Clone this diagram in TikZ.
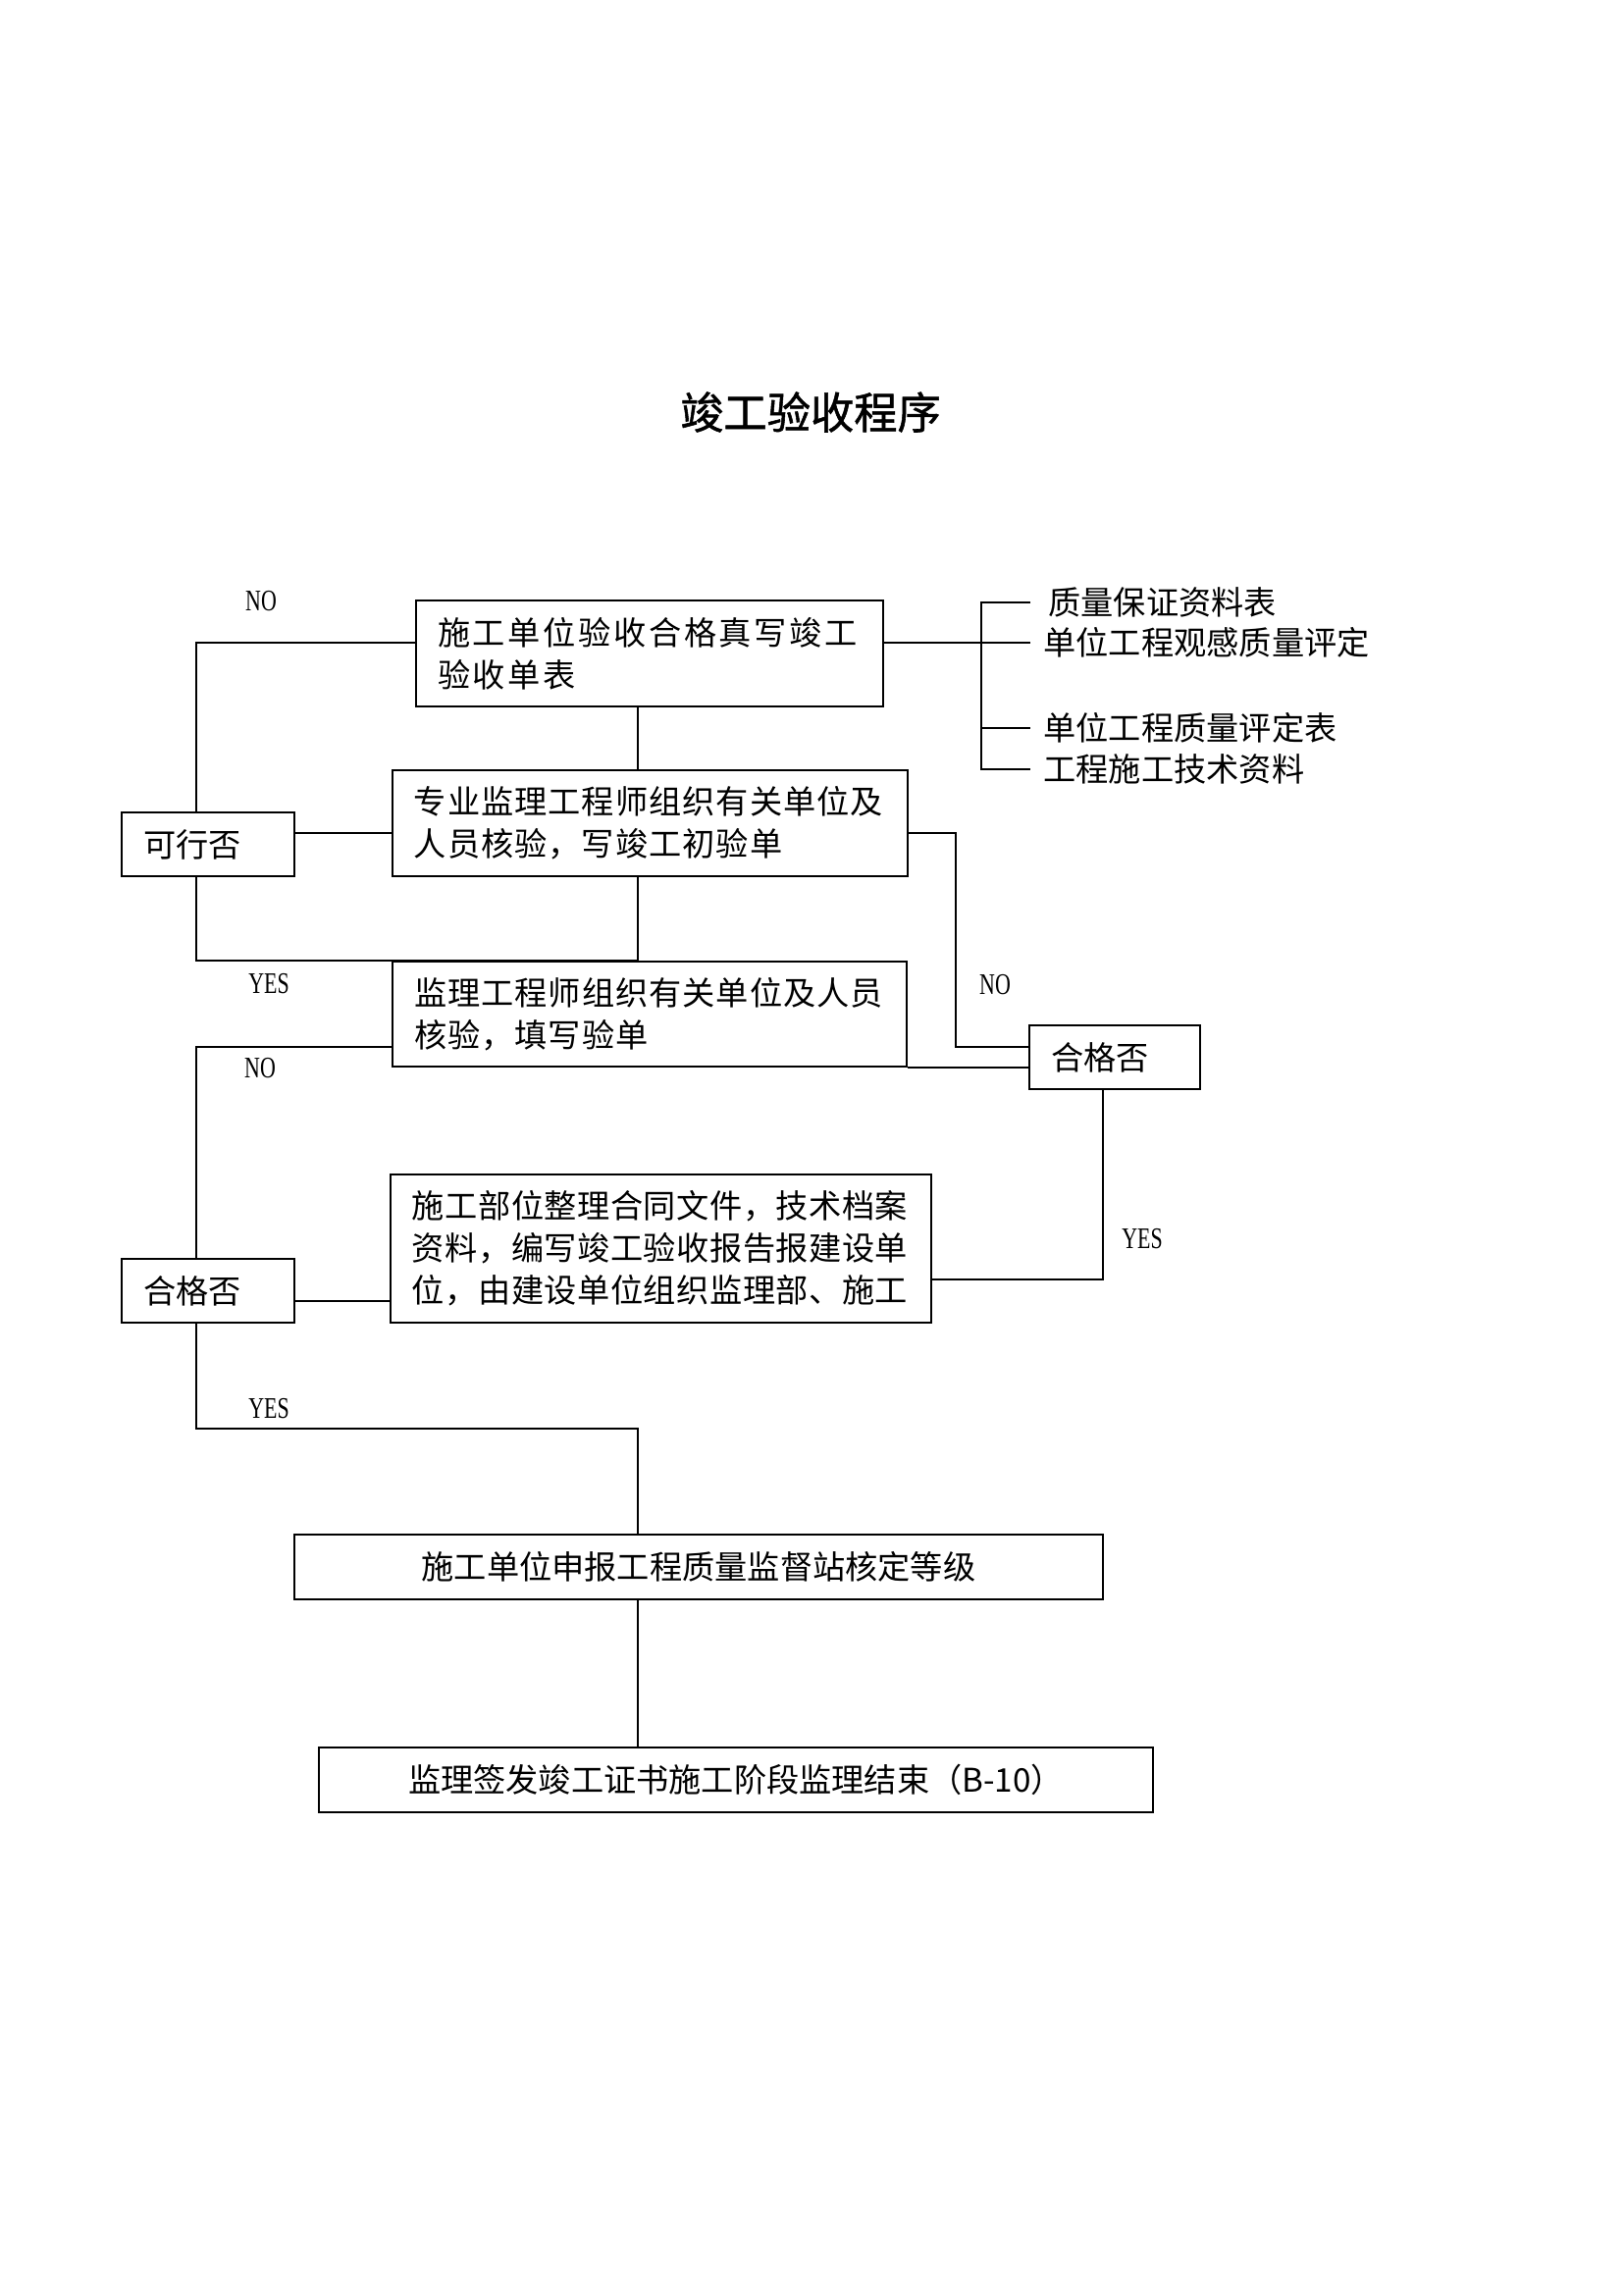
\documentclass[tikz,border=0pt]{standalone}
\usepackage{fontspec}
\usepackage{graphicx}
\setmainfont{Liberation Serif}
\newfontfamily\cjk{Noto Sans CJK SC}
\newfontfamily\cjktitle[FakeBold=1.2]{Noto Sans CJK SC}
\begin{document}
\begin{tikzpicture}[x=0.127mm, y=-0.127mm,
  box/.style={draw, line width=0.9pt, rectangle, inner xsep=2.794mm, inner ysep=0pt,
    align=left, font=\cjk\fontsize{12}{15.5}\selectfont},
  cbox/.style={box, align=center},
  ln/.style={line width=0.7pt},
  lbl/.style={inner sep=0pt, font=\fontsize{11}{13}\selectfont},
  side/.style={anchor=west, inner sep=0pt, font=\cjk\fontsize{12}{14}\selectfont},
  ttl/.style={inner sep=0pt, font=\cjktitle\fontsize{16}{19}\selectfont}]
\useasboundingbox (0,0) rectangle (1654,2339);

\node[ttl] (title) at (826,420) {竣工验收程序};

\node[box, text width=54.86mm, minimum height=13.72mm] (b1) at (662,666) {\addfontfeature{LetterSpace=8}施工单位验收合格真写竣工\\验收单表};
\node[box, text width=61.09mm, minimum height=13.72mm] (b2) at (662.5,839) {\addfontfeature{LetterSpace=3}专业监理工程师组织有关单位及\\人员核验，写竣工初验单};
\node[box, text width=60.96mm, minimum height=13.59mm] (b3) at (662,1033.5) {\addfontfeature{LetterSpace=3}监理工程师组织有关单位及人员\\核验，填写验单};
\node[box, text width=64.39mm, minimum height=19.18mm] (b4) at (673.5,1272.5) {\addfontfeature{LetterSpace=1.5}施工部位整理合同文件，技术档案\\资料，编写竣工验收报告报建设单\\位，由建设单位组织监理部、施工};
\node[box, text width=16.76mm, minimum height=8.26mm] (k1) at (212,860.5) {可行否};
\node[box, text width=16.51mm, minimum height=8.26mm] (q1) at (1136,1077.5) {合格否};
\node[box, text width=16.76mm, minimum height=8.26mm] (q2) at (212,1315.5) {合格否};
\node[cbox, text width=99.06mm, minimum height=8.38mm] (b5) at (712,1597) {施工单位申报工程质量监督站核定等级};
\node[cbox, text width=102.36mm, minimum height=8.38mm] (b6) at (750,1814) {监理签发竣工证书施工阶段监理结束（B-10）};

\node[side] (t1) at (1068,614) {质量保证资料表};
\node[side] (t2) at (1063,655) {单位工程观感质量评定};
\node[side] (t3) at (1063,742) {单位工程质量评定表};
\node[side] (t4) at (1063,784) {工程施工技术资料};

\node[lbl] (l1) at (266,613) {\scalebox{0.72}[1]{NO}};
\node[lbl] (l2) at (274,1003) {\scalebox{0.72}[1]{YES}};
\node[lbl] (l3) at (1014,1004) {\scalebox{0.72}[1]{NO}};
\node[lbl] (l4) at (265,1089) {\scalebox{0.72}[1]{NO}};
\node[lbl] (l5) at (1164,1263) {\scalebox{0.72}[1]{YES}};
\node[lbl] (l6) at (274,1436) {\scalebox{0.72}[1]{YES}};

\coordinate (vL) at (200,0);
\coordinate (vM) at (650,0);
\coordinate (vR) at (974,0);
\coordinate (vQ) at (1124,0);
\coordinate (bx) at (1000,0);
\coordinate (bt) at (1050,0);
\coordinate (yNO) at (0,655);
\coordinate (yK) at (0,849);
\coordinate (yB) at (0,1067);
\coordinate (yQ2) at (0,1326);
\coordinate (yB4) at (0,1304);
\coordinate (yY3) at (0,1456);

\draw[ln] (vL |- k1.north) -- (vL |- yNO) -- (b1.west |- yNO);
\draw[ln] (b1.east |- yNO) -- (bt |- yNO);
\draw[ln] (bt |- t1.west) -- (bx |- t1.west) -- (bx |- t4.west) -- (bt |- t4.west);
\draw[ln] (bx |- t3.west) -- (bt |- t3.west);
\draw[ln] (vM |- b1.south) -- (vM |- b2.north);
\draw[ln] (k1.east |- yK) -- (b2.west |- yK);
\draw[ln] (b2.east |- yK) -- (vR |- yK) -- (vR |- yB) -- (q1.west |- yB);
\draw[ln] (b3.south east) -- (q1.west |- b3.south);
\draw[ln] (vM |- b2.south) -- (vM |- b3.north);
\draw[ln] (vL |- k1.south) -- (vL |- b3.north) -- (vM |- b3.north);
\draw[ln] (b3.west |- yB) -- (vL |- yB) -- (vL |- q2.north);
\draw[ln] (q2.east |- yQ2) -- (b4.west |- yQ2);
\draw[ln] (b4.east |- yB4) -- (vQ |- yB4) -- (vQ |- q1.south);
\draw[ln] (vL |- q2.south) -- (vL |- yY3) -- (vM |- yY3) -- (vM |- b5.north);
\draw[ln] (vM |- b5.south) -- (vM |- b6.north);
\end{tikzpicture}
\end{document}
